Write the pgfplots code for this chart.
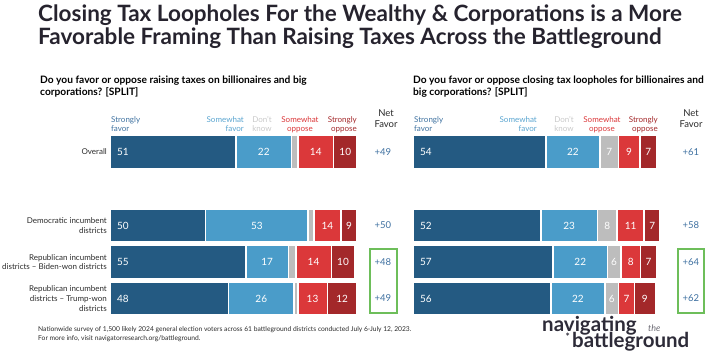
\documentclass[border=0pt]{standalone}
\usepackage{pgfplots}
\pgfplotsset{compat=1.18}
\usepackage{fontspec}
\setmainfont{Lato}
\definecolor{sf}{HTML}{245A82}
\definecolor{swf}{HTML}{4A9CC9}
\definecolor{dk}{HTML}{BDBDBD}
\definecolor{swo}{HTML}{DB383A}
\definecolor{so}{HTML}{A3282A}
\definecolor{sft}{HTML}{3F72A0}
\definecolor{swft}{HTML}{5AA5D0}
\definecolor{dkt}{HTML}{C9C9C9}
\definecolor{netc}{HTML}{3E70A0}
\definecolor{grn}{HTML}{6DBE5A}
\definecolor{titlec}{HTML}{26232E}
\definecolor{labc}{HTML}{2B2B2B}
\definecolor{logoc}{HTML}{2D2B38}
\pgfplotsset{
  barchart/.style={
    scale only axis, height=190pt,
    xmin=0, xmax=100, ymin=-320, ymax=-130,
    xbar stacked, bar width=33pt,
    axis line style={draw=none}, tick style={draw=none}, xtick=\empty,
    ytick={-298.5,-262,-225.5,-152},
    clip=false,
    point meta=explicit symbolic,
    visualization depends on={rawx \as \myx},
  },
  seg/.style={draw=white, line width=1.6pt},
  lab/.style={nodes near coords, every node near coord/.style={anchor=center, text=white, font=\fontsize{10}{12}\selectfont}},
  labfirst/.style={nodes near coords, every node near coord/.style={anchor=west, xshift={-0.5*\myx*#1+3pt}, text=white, font=\fontsize{10}{12}\selectfont}},
}
\begin{document}
\begin{tikzpicture}[x=1pt,y=1pt]
\path[use as bounding box] (0pt,0pt) rectangle (720pt,353pt);
% Title
\node[anchor=base west, inner sep=0pt, text=titlec, font=\fontsize{22.5}{26}\selectfont\bfseries] at (38pt,331pt) {Closing Tax Loopholes For the Wealthy \& Corporations is a More};
\node[anchor=base west, inner sep=0pt, text=titlec, font=\fontsize{22.5}{26}\selectfont\bfseries] at (38pt,308pt) {Favorable Framing Than Raising Taxes Across the Battleground};
% Questions
\node[anchor=base west, inner sep=0pt, font=\fontsize{10.2}{12}\selectfont\bfseries] at (40pt,269pt) {Do you favor or oppose raising taxes on billionaires and big};
\node[anchor=base west, inner sep=0pt, font=\fontsize{10.2}{12}\selectfont\bfseries] at (40pt,257.5pt) {corporations? [SPLIT]};
\node[anchor=base west, inner sep=0pt, font=\fontsize{10.2}{12}\selectfont\bfseries] at (413pt,269pt) {Do you favor or oppose closing tax loopholes for billionaires and};
\node[anchor=base west, inner sep=0pt, font=\fontsize{10.2}{12}\selectfont\bfseries] at (413pt,257.5pt) {big corporations? [SPLIT]};
% Headers left
\begin{scope}[every node/.style={inner sep=0pt, font=\fontsize{8}{9.5}\selectfont}]
\node[anchor=base west, text=sft] at (111pt,230pt) {Strongly};
\node[anchor=base west, text=sft] at (111pt,221pt) {favor};
\node[anchor=base east, text=swft] at (244pt,230pt) {Somewhat};
\node[anchor=base east, text=swft] at (244pt,221pt) {favor};
\node[anchor=base, text=dkt] at (262pt,230pt) {Don't};
\node[anchor=base, text=dkt] at (262pt,221pt) {know};
\node[anchor=base, text=swo] at (300pt,230pt) {Somewhat};
\node[anchor=base, text=swo] at (300pt,221pt) {oppose};
\node[anchor=base east, text=so] at (357pt,230pt) {Strongly};
\node[anchor=base east, text=so] at (357pt,221pt) {oppose};
% Headers right
\node[anchor=base west, text=sft] at (414pt,230pt) {Strongly};
\node[anchor=base west, text=sft] at (414pt,221pt) {favor};
\node[anchor=base east, text=swft] at (537pt,230pt) {Somewhat};
\node[anchor=base east, text=swft] at (537pt,221pt) {favor};
\node[anchor=base, text=dkt] at (564pt,230pt) {Don't};
\node[anchor=base, text=dkt] at (564pt,221pt) {know};
\node[anchor=base, text=swo] at (602pt,230pt) {Somewhat};
\node[anchor=base, text=swo] at (602pt,221pt) {oppose};
\node[anchor=base east, text=so] at (658pt,230pt) {Strongly};
\node[anchor=base east, text=so] at (658pt,221pt) {oppose};
\end{scope}
% Net favor headers
\begin{scope}[every node/.style={inner sep=0pt, font=\fontsize{9.5}{11}\selectfont, text=labc}]
\node[anchor=base] at (386pt,236pt) {Net};
\node[anchor=base] at (386pt,225pt) {Favor};
\node[anchor=base] at (691pt,236pt) {Net};
\node[anchor=base] at (691pt,225pt) {Favor};
\end{scope}
% Left chart
\begin{axis}[barchart, at={(110pt,33pt)}, anchor=south west, width=247pt,
  yticklabels={{Republican incumbent\\districts -- Trump-won\\districts},{Republican incumbent\\districts -- Biden-won districts},{Democratic incumbent\\districts},Overall},
  yticklabel style={align=right, font=\fontsize{8}{9.8}\selectfont, text=labc, inner sep=0pt, xshift=-3pt},
]
\addplot[seg, fill=sf, labfirst=2.47pt] coordinates {(51,-152)[51] (38.7,-225.5)[50] (55,-262)[55] (48,-298.5)[48]};
\addplot[seg, fill=swf, lab] coordinates {(22.5,-152)[22] (41.5,-225.5)[53] (17.2,-262)[17] (26.5,-298.5)[26]};
\addplot[seg, fill=dk] coordinates {(2.6,-152) (2.4,-225.5) (3,-262) (1.5,-298.5)};
\addplot[seg, fill=swo, lab] coordinates {(14.4,-152)[14] (10.9,-225.5)[14] (14.4,-262)[14] (12,-298.5)[13]};
\addplot[seg, fill=so, lab] coordinates {(9.5,-152)[10] (6.5,-225.5)[9] (9.5,-262)[10] (12,-298.5)[12]};
\node[text=netc, font=\fontsize{9.5}{11}\selectfont] at (axis cs:110.5,-152) {+49};
\node[text=netc, font=\fontsize{9.5}{11}\selectfont] at (axis cs:110.5,-225.5) {+50};
\node[text=netc, font=\fontsize{9.5}{11}\selectfont] at (axis cs:110.5,-262) {+48};
\node[text=netc, font=\fontsize{9.5}{11}\selectfont] at (axis cs:110.5,-298.5) {+49};
\end{axis}
% Right chart
\begin{axis}[barchart, at={(413pt,33pt)}, anchor=south west, width=246pt, yticklabels={}, ]
\addplot[seg, fill=sf, labfirst=2.46pt] coordinates {(54,-152)[54] (52,-225.5)[52] (57,-262)[57] (56,-298.5)[56]};
\addplot[seg, fill=swf, lab] coordinates {(22,-152)[22] (23,-225.5)[23] (22,-262)[22] (22,-298.5)[22]};
\addplot[seg, fill=dk, lab] coordinates {(7.5,-152)[7] (8,-225.5)[8] (5.5,-262)[6] (5.5,-298.5)[6]};
\addplot[seg, fill=swo, lab] coordinates {(8.7,-152)[9] (11,-225.5)[11] (8,-262)[8] (6.5,-298.5)[7]};
\addplot[seg, fill=so, lab] coordinates {(6.9,-152)[7] (6.5,-225.5)[7] (6.5,-262)[7] (8.5,-298.5)[9]};
\node[text=netc, font=\fontsize{9.5}{11}\selectfont] at (axis cs:113,-152) {+61};
\node[text=netc, font=\fontsize{9.5}{11}\selectfont] at (axis cs:113,-225.5) {+58};
\node[text=netc, font=\fontsize{9.5}{11}\selectfont] at (axis cs:113,-262) {+64};
\node[text=netc, font=\fontsize{9.5}{11}\selectfont] at (axis cs:113,-298.5) {+62};
\end{axis}
% Green boxes
\draw[grn, line width=1.4pt] (370pt,104pt) rectangle (397pt,40pt);
\draw[grn, line width=1.4pt] (678pt,104pt) rectangle (704pt,40pt);
% Footnote
\node[anchor=base west, inner sep=0pt, font=\fontsize{6.7}{8}\selectfont, text=labc] at (38pt,21pt) {Nationwide survey of 1,500 likely 2024 general election voters across 61 battleground districts conducted July 6-July 12, 2023.};
\node[anchor=base west, inner sep=0pt, font=\fontsize{6.7}{8}\selectfont, text=labc] at (38pt,12.5pt) {For more info, visit navigatorresearch.org/battleground.};
% Logo
\node[anchor=base west, inner sep=0pt, font=\fontsize{20.5}{24}\selectfont\bfseries, text=logoc] at (542pt,21pt) {navigating};
\node[anchor=base west, inner sep=0pt, font=\fontsize{9}{10}\selectfont\itshape, text=logoc!70] at (648pt,21pt) {the};
\node[anchor=base west, inner sep=0pt, font=\fontsize{20.5}{24}\selectfont\bfseries, text=logoc] at (572pt,5pt) {battleground};
\node[anchor=base east, inner sep=0pt, font=\fontsize{10}{10}\selectfont\bfseries, text=logoc] at (570pt,12pt) {*};
\end{tikzpicture}
\end{document}
